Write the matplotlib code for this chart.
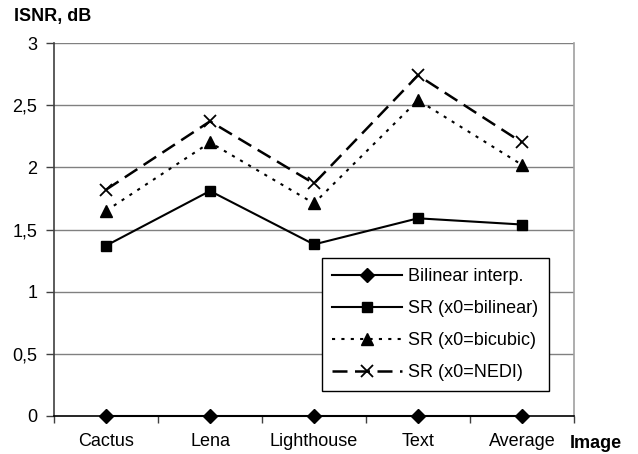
import numpy as np
import matplotlib
matplotlib.use('Agg')
import matplotlib.pyplot as plt

plt.rcParams['font.family'] = ['Liberation Sans', 'DejaVu Sans']

# data
images = ['Cactus', 'Lena', 'Lighthouse', 'Text', 'Average']
bilinear_interp = [0, 0, 0, 0, 0]
sr_bilinear = [1.37, 1.81, 1.38, 1.59, 1.54]
sr_bicubic = [1.65, 2.20, 1.71, 2.54, 2.02]
sr_nedi = [1.82, 2.37, 1.87, 2.74, 2.20]
yticks = [0, 0.5, 1, 1.5, 2, 2.5, 3]
ytick_labels = ['0', '0,5', '1', '1,5', '2', '2,5', '3']

x = np.arange(len(images))

fig = plt.figure(figsize=(6.38, 4.54), dpi=100)
ax = fig.add_axes([54/638, 1 - 416/454, 520/638, 373/454])

# grid lines
for yv in yticks[1:]:
    ax.axhline(yv, color='#808080', lw=1.0, zorder=1)

ax.plot(x, bilinear_interp, color='black', lw=1.5, marker='D', ms=7,
        label='Bilinear interp.', zorder=3, clip_on=False)
ax.plot(x, sr_bilinear, color='black', lw=1.5, marker='s', ms=7.5,
        label='SR (x0=bilinear)', zorder=3)
ax.plot(x, sr_bicubic, color='black', lw=1.5, ls=(0, (1.5, 3)), marker='^', ms=8,
        label='SR (x0=bicubic)', zorder=3)
ax.plot(x, sr_nedi, color='black', lw=1.8, ls=(0, (6, 3)), marker='x', ms=9, mew=1.3,
        label='SR (x0=NEDI)', zorder=3)

ax.set_xlim(-0.5, len(images) - 0.5)
ax.set_ylim(0, 3)

ax.set_xticks(x)
ax.set_xticklabels(images, fontsize=13)
ax.set_xticks(np.arange(-0.5, len(images), 1.0), minor=True)
ax.tick_params(axis='x', which='major', length=0, pad=12)
ax.tick_params(axis='x', which='minor', length=5, width=1, color='#404040')

ax.set_yticks(yticks)
ax.set_yticklabels(ytick_labels, fontsize=13)
ax.tick_params(axis='y', length=6, width=1, color='#404040', pad=6)

ax.spines['top'].set_visible(False)
ax.spines['right'].set_color('#a0a0a0')
ax.spines['right'].set_linewidth(1.2)
ax.spines['left'].set_color('#404040')
ax.spines['left'].set_linewidth(1.2)
ax.spines['bottom'].set_color('black')
ax.spines['bottom'].set_linewidth(1.2)

fig.text(14/638, 1 - 21/454, 'ISNR, dB', fontsize=13, fontweight='bold', ha='left', va='baseline')
fig.text(570/638, 1 - 448/454, 'Image', fontsize=13, fontweight='bold', ha='left', va='baseline')

leg = ax.legend(loc='upper left', bbox_to_anchor=(0.515, 0.4236), fontsize=13,
                frameon=True, fancybox=False, framealpha=1, edgecolor='black',
                borderaxespad=0, handlelength=3.9, handletextpad=0.35,
                labelspacing=0.83, borderpad=0.55)
leg.get_frame().set_linewidth(1.0)

fig.savefig('out.png', dpi=100)
